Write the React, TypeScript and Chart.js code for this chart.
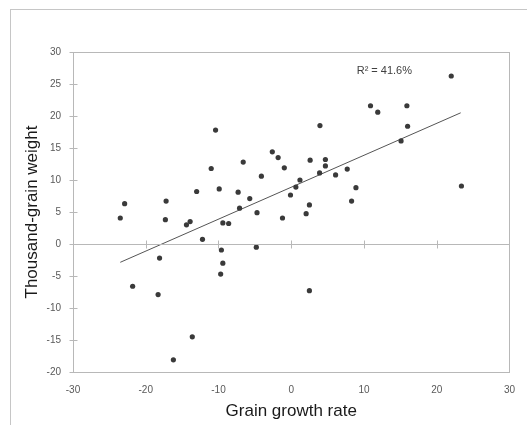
import React, { useEffect, useRef } from "react";
import { Chart, registerables } from "chart.js";

Chart.register(...registerables);

const xValues = [
  -23.5, -22.9, -21.8, -17.2, -17.3, -18.1, -18.3, -16.2, -14.4, -13.9,
  -13.6, -13.0, -12.2, -11.0, -10.4, -9.9, -9.6, -9.4, -9.4, -9.7,
  -8.6, -7.3, -7.1, -6.6, -5.7, -4.7, -4.8, -4.1, -2.6, -1.8,
  -0.95, -1.2, -0.1, 0.64, 1.2, 2.05, 2.5, 2.6, 2.5, 3.9,
  3.95, 4.7, 4.7, 6.1, 7.7, 8.9, 8.3, 10.9, 11.9, 15.1,
  15.9, 16.0, 22.0, 23.4,
];
const yValues = [
  4.06, 6.3, -6.6, 6.7, 3.8, -2.2, -7.9, -18.1, 3.0, 3.5,
  -14.5, 8.2, 0.73, 11.8, 17.8, 8.6, -0.94, 3.3, -3.0, -4.7,
  3.2, 8.1, 5.6, 12.8, 7.1, 4.9, -0.5, 10.6, 14.4, 13.5,
  11.9, 4.06, 7.66, 8.9, 10.0, 4.74, 6.1, 13.1, -7.3, 11.1,
  18.5, 13.2, 12.2, 10.8, 11.7, 8.8, 6.7, 21.6, 20.6, 16.1,
  21.6, 18.4, 26.25, 9.06,
];
const trendX = [-23.5, 23.3];
const trendY = [-2.86, 20.5];
const xTicks = [-30, -20, -10, 0, 10, 20, 30];
const yTicks = [-20, -15, -10, -5, 0, 5, 10, 15, 20, 25, 30];
const rSquaredLabel = "R\u00B2 = 41.6%";
const rLabelPos = [9.0, 27.0];
const xTitle = "Grain growth rate";
const yTitle = "Thousand-grain weight";

const FONT = "'Liberation Sans', Arial, sans-serif";

const framePlugin = {
  id: "frame",
  beforeDraw(chart: any) {
    const ctx = chart.ctx;
    ctx.save();
    ctx.fillStyle = "#ffffff";
    ctx.fillRect(0, 0, chart.width, chart.height);
    ctx.strokeStyle = "#c6c6c6";
    ctx.lineWidth = 1;
    ctx.strokeRect(10.5, 9.5, chart.width + 20, chart.height + 20);
    ctx.restore();
  },
  afterDatasetsDraw(chart: any) {
    const ctx = chart.ctx;
    const { left, right, top, bottom } = chart.chartArea;
    const xs = chart.scales.x;
    const ys = chart.scales.y;
    ctx.save();
    ctx.strokeStyle = "#b8b8b8";
    ctx.lineWidth = 1;
    ctx.strokeRect(Math.round(left) + 0.5, Math.round(top) + 0.5, Math.round(right - left), Math.round(bottom - top));
    const y0 = Math.round(ys.getPixelForValue(0)) + 0.5;
    ctx.beginPath();
    ctx.moveTo(left, y0);
    ctx.lineTo(right, y0);
    xTicks.forEach((v) => {
      if (v <= xTicks[0] || v >= xTicks[xTicks.length - 1]) return;
      const px = Math.round(xs.getPixelForValue(v)) + 0.5;
      ctx.moveTo(px, y0 - 4);
      ctx.lineTo(px, y0 + 4);
    });
    const lx = Math.round(left) + 0.5;
    yTicks.forEach((v) => {
      const py = Math.round(ys.getPixelForValue(v)) + 0.5;
      ctx.moveTo(lx - 4, py);
      ctx.lineTo(lx + 4, py);
    });
    ctx.stroke();
    ctx.fillStyle = "#404040";
    ctx.font = "11px " + FONT;
    ctx.textAlign = "left";
    ctx.textBaseline = "middle";
    ctx.fillText(rSquaredLabel, xs.getPixelForValue(rLabelPos[0]), ys.getPixelForValue(rLabelPos[1]));
    ctx.restore();
  },
};

export default function App() {
  const canvasRef = useRef<HTMLCanvasElement | null>(null);

  useEffect(() => {
    document.body.style.margin = "0";
    const canvas = canvasRef.current;
    if (!canvas) return;
    const chart = new Chart(canvas, {
      type: "scatter",
      data: {
        datasets: [
          {
            type: "line",
            data: trendX.map((x, i) => ({ x, y: trendY[i] })),
            borderColor: "#555555",
            borderWidth: 1,
            pointRadius: 0,
            fill: false,
            order: 2,
          } as any,
          {
            data: xValues.map((x, i) => ({ x, y: yValues[i] })),
            backgroundColor: "#3a3a3a",
            borderColor: "#3a3a3a",
            borderWidth: 0,
            pointRadius: 2.6,
            order: 1,
          },
        ],
      },
      options: {
        responsive: false,
        devicePixelRatio: 1,
        animation: false,
        layout: { padding: { top: 52, right: 10, left: 0, bottom: 0 } },
        plugins: {
          legend: { display: false },
          tooltip: { enabled: false },
        },
        scales: {
          x: {
            type: "linear",
            min: -30,
            max: 30,
            afterFit(scale: any) {
              scale.height = 53;
            },
            afterBuildTicks(scale: any) {
              scale.ticks = xTicks.map((v) => ({ value: v }));
            },
            grid: { display: false, drawTicks: false },
            border: { display: false },
            ticks: {
              padding: 12,
              maxRotation: 0,
              autoSkip: false,
              color: "#595959",
              font: { family: FONT, size: 10 },
            },
            title: {
              display: true,
              text: xTitle,
              color: "#1a1a1a",
              font: { family: FONT, size: 17 },
              padding: { top: 0, bottom: 3 },
            },
          },
          y: {
            type: "linear",
            min: -20,
            max: 30,
            afterFit(scale: any) {
              scale.width = 73;
            },
            afterBuildTicks(scale: any) {
              scale.ticks = yTicks.map((v) => ({ value: v }));
            },
            grid: { display: false, drawTicks: false },
            border: { display: false },
            ticks: {
              padding: 12,
              autoSkip: false,
              color: "#595959",
              font: { family: FONT, size: 10 },
            },
            title: {
              display: true,
              text: yTitle,
              color: "#1a1a1a",
              font: { family: FONT, size: 17 },
              padding: { top: 22, bottom: 0 },
            },
          },
        },
      },
      plugins: [framePlugin],
    });
    return () => chart.destroy();
  }, []);

  return (
    <div style={{ position: "absolute", left: 0, top: 0, width: 527, height: 425 }}>
      <canvas ref={canvasRef} width={527} height={425} style={{ width: 527, height: 425 }} />
    </div>
  );
}
